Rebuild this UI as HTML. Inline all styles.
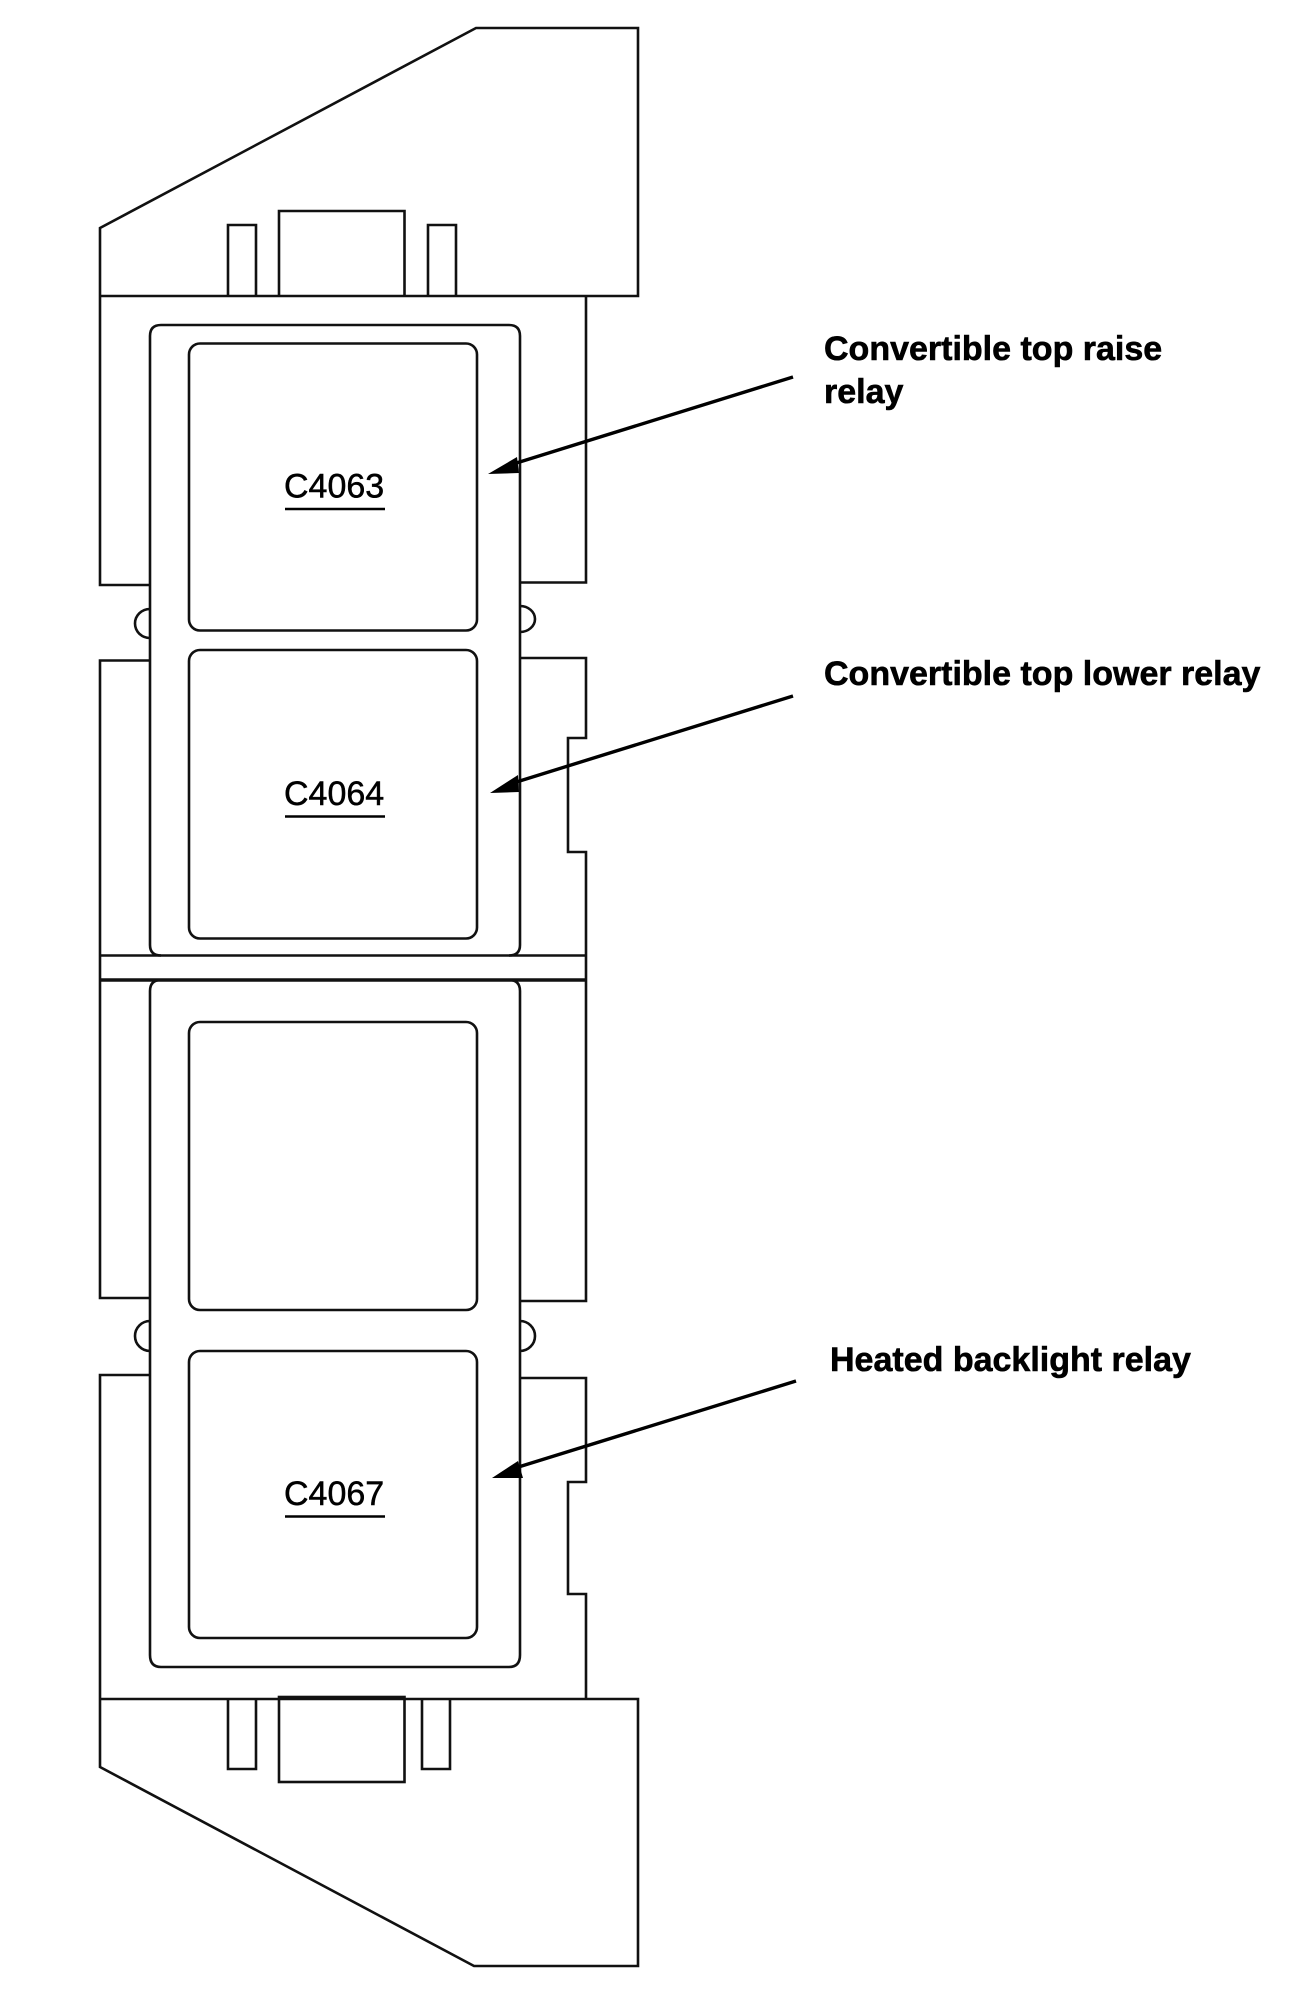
<!DOCTYPE html>
<html><head><meta charset="utf-8"><style>
html,body{margin:0;padding:0;background:#fff}
svg{display:block}
text{font-family:"Liberation Sans",Arial,sans-serif;fill:#000}
.l{font-size:34px;font-weight:bold;stroke:#000;stroke-width:.6px}
.c{font-size:34px;stroke:#000;stroke-width:.5px}
</style></head><body>
<svg width="1303" height="2000" viewBox="0 0 1303 2000" xmlns="http://www.w3.org/2000/svg">
<g fill="none" stroke="#111" stroke-width="2.6" stroke-linejoin="miter">
<!-- top bracket -->
<path d="M100 296V228L476 28H638V296H100"/>
<path d="M228 296V225H256V296M279 296V211H404.500V296M428 296V225H456V296"/>
<!-- housing -->
<path d="M100 296V585H150M586 296V582.500H520"/>
<path d="M150 660.500H100V1298H150M520 658H586V738H568V852H586V1301H520"/>
<path d="M150 1375H100V1699M520 1378H586V1482H568V1594H586V1699"/>
<path d="M100 955.500H586"/>
<path d="M100 980H586" stroke-width="3.400"/>
<!-- frames -->
<path d="M161 955.500Q150 955.500 150 945V336Q150 325 161 325H509Q520 325 520 336V945Q520 955.500 509 955.500"/>
<path d="M161 980Q150 980 150 991V1655Q150 1667 161 1667H509Q520 1667 520 1655V991Q520 980 509 980"/>
<!-- relays -->
<rect x="189" y="343.500" width="288" height="287" rx="11"/>
<rect x="189" y="650" width="288" height="288.500" rx="11"/>
<rect x="189" y="1022" width="288" height="288" rx="11"/>
<rect x="189" y="1351" width="288" height="287" rx="11"/>
<!-- ears -->
<path d="M150 609A15 14.500 0 0 0 150 638"/>
<path d="M520 606A15 13 0 0 1 520 632"/>
<path d="M150 1321A15 15 0 0 0 150 1351"/>
<path d="M520 1321A15 15 0 0 1 520 1351"/>
<!-- bottom bracket -->
<path d="M100 1699V1767L474 1966H638V1699H100"/>
<path d="M228 1699V1769H256V1699M422 1699V1769H450V1699"/>
<rect x="279" y="1697" width="125.500" height="85"/>
</g>
<!-- arrows -->
<g stroke="#000" stroke-width="3.400" fill="#000">
<path d="M793 377L510 465"/>
<path d="M793 696L510 784"/>
<path d="M796 1381L512 1469"/>
</g>
<g fill="#000">
<polygon points="488,474 517,457 519,473"/>
<polygon points="490,793 518,775 519,792"/>
<polygon points="492,1478 518,1461 523,1478"/>
</g>
<!-- under lines -->
<g stroke="#000" stroke-width="2.400">
<path d="M285 509H385M285 816.500H385M285 1516.500H385"/>
</g>
<text class="c" x="284" y="497.500">C4063</text>
<text class="c" x="284" y="805">C4064</text>
<text class="c" x="284" y="1505">C4067</text>
<text class="l" x="824" y="360">Convertible top raise</text>
<text class="l" x="824" y="403">relay</text>
<text class="l" x="824" y="685">Convertible top lower relay</text>
<text class="l" x="830" y="1371">Heated backlight relay</text>
</svg>
</body></html>
